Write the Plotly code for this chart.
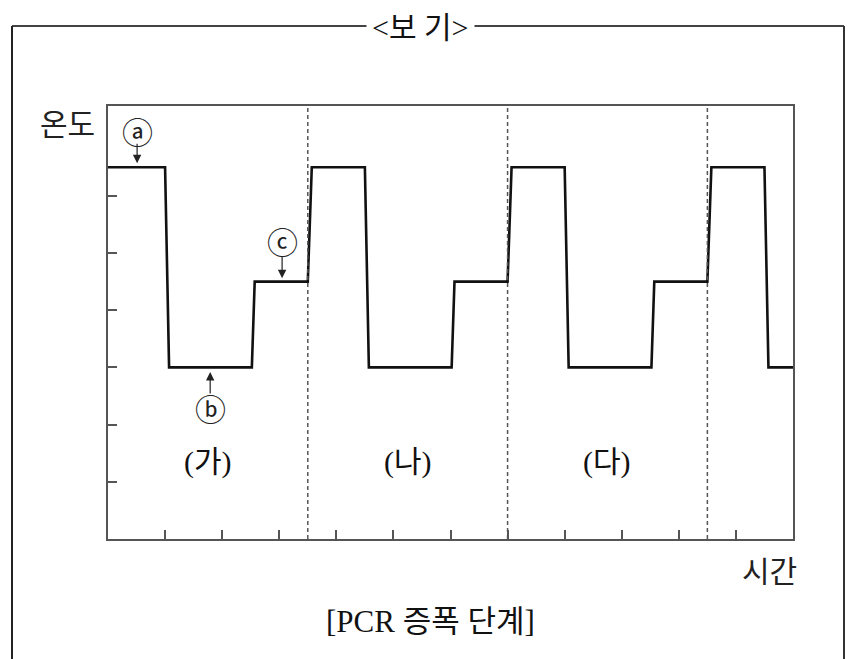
import plotly.graph_objects as go

# ---- data ----
time_pts = [0, 1.0, 1.07, 2.52, 2.57, 3.5, 3.57, 4.5, 4.57, 6.02, 6.07, 7.0,
            7.07, 8.0, 8.07, 9.52, 9.57, 10.5, 10.57, 11.5, 11.57, 12]
temp_pts = [6.5, 6.5, 3.0, 3.0, 4.5, 4.5, 6.5, 6.5, 3.0, 3.0, 4.5, 4.5,
            6.5, 6.5, 3.0, 3.0, 4.5, 4.5, 6.5, 6.5, 3.0, 3.0]
cycle_bounds = [3.5, 7.0, 10.5]
stage_labels = ["(가)", "(나)", "(다)"]
stage_centers = [1.75, 5.25, 8.75]
x_ticks = list(range(1, 12))
y_ticks = [1, 2, 3, 4, 5, 6]
marker_labels = ["ⓐ", "ⓑ", "ⓒ"]
marker_x = [0.51, 1.79, 3.05]
marker_y = [6.57, 2.92, 4.56]

OFF = 8  # page body margin
W, H = 855 - OFF, 659 - OFF
ML, MT = 108 - OFF, 106 - OFF
MR = W - (793 - OFF)
MB = H - (539 - OFF)
PW, PH = W - ML - MR, H - MT - MB

def px(xpix):
    return (xpix - OFF - ML) / PW

def py(ypix):
    return (H - MB - (ypix - OFF)) / PH

SERIF = "Liberation Serif, Noto Sans CJK KR, serif"
SANS = "Noto Sans CJK KR, sans-serif"
AXC = "#555555"

fig = go.Figure()
fig.add_trace(go.Scatter(x=time_pts, y=temp_pts, mode="lines",
                         line=dict(color="#111111", width=2.6),
                         hoverinfo="skip", showlegend=False))

shapes = []
for b in cycle_bounds:
    shapes.append(dict(type="line", xref="x", yref="paper", x0=b, x1=b, y0=0, y1=1,
                       line=dict(color=AXC, width=1.5, dash="4px,3px")))
# outer frame
fx0, fx1, fy0, fy1 = px(12), px(844), py(H + 20), py(26)
shapes.append(dict(type="line", xref="paper", yref="paper", x0=fx0, x1=fx1, y0=fy1, y1=fy1,
                   line=dict(color="#444444", width=2)))
shapes.append(dict(type="line", xref="paper", yref="paper", x0=fx0, x1=fx0, y0=fy0, y1=fy1,
                   line=dict(color="#222222", width=2)))
shapes.append(dict(type="line", xref="paper", yref="paper", x0=fx1, x1=fx1, y0=fy0, y1=fy1,
                   line=dict(color="#333333", width=2)))

ann = []
for lab, xc in zip(stage_labels, stage_centers):
    ann.append(dict(x=xc, y=1.35, xref="x", yref="y", text=lab, showarrow=False,
                    font=dict(family=SERIF, size=30, color="#111111")))

arrow_len = [-21, 23, -23]     # pixel offset of arrow tail
label_shift = [33, -36, 38]    # pixel offset of circled label
for lab, mx, my, ay, ys in zip(marker_labels, marker_x, marker_y, arrow_len, label_shift):
    ann.append(dict(x=mx, y=my, xref="x", yref="y", text="", showarrow=True,
                    ax=0, ay=ay, arrowhead=2, arrowsize=1.4, arrowwidth=1.2,
                    arrowcolor="#222222", standoff=0, startstandoff=0))
    ann.append(dict(x=mx, y=my, xref="x", yref="y", text=lab, showarrow=False,
                    yshift=ys, xanchor="center", yanchor="middle",
                    font=dict(family=SANS, size=31, color="#222222")))

ann.append(dict(x=px(67), y=py(122), xref="paper", yref="paper", text="온도",
                showarrow=False, xanchor="center", yanchor="middle",
                font=dict(family=SANS, size=30, color="#222222")))
ann.append(dict(x=px(799), y=py(569), xref="paper", yref="paper", text="시간",
                showarrow=False, xanchor="right", yanchor="middle",
                font=dict(family=SANS, size=30, color="#222222")))
ann.append(dict(x=px(430), y=py(621), xref="paper", yref="paper", text="[PCR 증폭 단계]",
                showarrow=False, xanchor="center", yanchor="middle",
                font=dict(family=SERIF, size=31, color="#111111")))
ann.append(dict(x=px(420), y=py(27), xref="paper", yref="paper", text="<보 기>",
                showarrow=False, xanchor="center", yanchor="middle",
                bgcolor="white", borderpad=5,
                font=dict(family=SERIF, size=30, color="#111111")))

fig.update_layout(
    width=W, height=H,
    margin=dict(l=ML, r=MR, t=MT, b=MB),
    paper_bgcolor="white", plot_bgcolor="white",
    shapes=shapes, annotations=ann, showlegend=False,
    xaxis=dict(range=[0, 12], tickvals=x_ticks, ticks="inside", ticklen=9,
               tickwidth=1.5, tickcolor=AXC, showticklabels=False, showgrid=False,
               zeroline=False, showline=True, linecolor=AXC, linewidth=2, mirror=True),
    yaxis=dict(range=[0, PH / 57.2], tickvals=y_ticks, ticks="inside", ticklen=9,
               tickwidth=1.5, tickcolor=AXC, showticklabels=False, showgrid=False,
               zeroline=False, showline=True, linecolor=AXC, linewidth=2, mirror=True),
)

fig.write_html("out.html")
